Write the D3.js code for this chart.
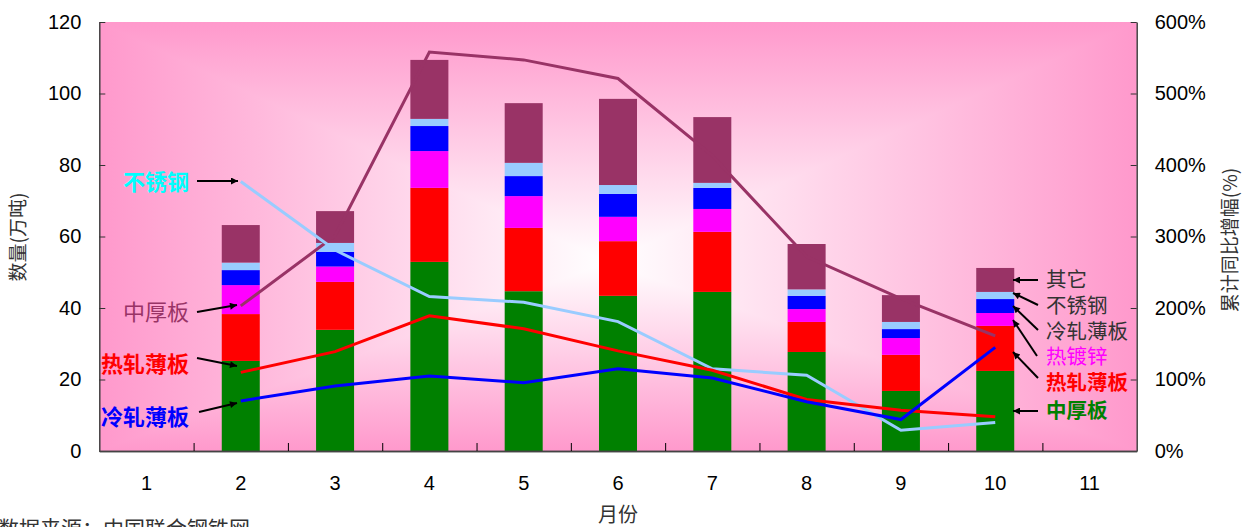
<!DOCTYPE html>
<html><head><meta charset="utf-8">
<script src="https://cdn.jsdelivr.net/npm/d3@7/dist/d3.min.js"></script>
<style>
html,body{margin:0;padding:0;background:#fff;overflow:hidden}
svg{display:block}
</style></head>
<body>
<svg id="c" width="1242" height="527"></svg>
<script>
// ---- data ----
const months = ["1","2","3","4","5","6","7","8","9","10","11"];
const seriesNames = ["中厚板","热轧薄板","热镀锌","冷轧薄板","不锈钢","其它"];
const zhonghou = [null,25.2,33.9,52.9,44.7,43.4,44.5,27.7,16.8,22.4,null];
const rezha    = [null,13.1,13.4,20.7,17.7,15.3,16.8,8.4,10.1,12.6,null];
const reduxin  = [null,8.1,4.3,10.3,8.9,6.8,6.4,3.6,4.7,3.6,null];
const lengzha  = [null,4.2,4.1,7.0,5.6,6.4,5.9,3.7,2.5,3.9,null];
const buxiu    = [null,2.1,2.5,2.0,3.7,2.5,1.4,1.8,2.0,2.0,null];
const qita     = [null,10.5,8.9,16.5,16.7,24.1,18.4,12.7,7.5,6.7,null];
// cumulative YoY growth (%)
const gZhonghou = [null,203,301,558,547,521,413,272,213,161,null];
const gBuxiu    = [null,377,281,216,208,181,115,106,29,40,null];
const gRezha    = [null,110,139,189,171,140,113,72,57,48,null];
const gLengzha  = [null,70,91,105,95.5,115,102,69,44,145,null];
const leftTicks = [0,20,40,60,80,100,120];
const rightTicks = [0,100,200,300,400,500,600];

const barColors = ["#008000","#FF0000","#FF00FF","#0000FF","#99CCFF","#993366"];
const barSeries = [zhonghou,rezha,reduxin,lengzha,buxiu,qita];

const L=99.3, R=1136.7, T=22, B=451;
const svg = d3.select("#c");
const numFont = "'Liberation Sans', Arial, sans-serif";
const cjk = "'Noto Sans CJK SC', sans-serif";

// background: rectangular path gradient via two linear gradients + darken
const defs = svg.append("defs");
const gh = defs.append("linearGradient").attr("id","gh").attr("x1","0").attr("x2","1").attr("y1","0").attr("y2","0");
gh.append("stop").attr("offset",0).attr("stop-color","#FF99CC");
gh.append("stop").attr("offset",0.49).attr("stop-color","#FFFFFF");
gh.append("stop").attr("offset",1).attr("stop-color","#FF99CC");
const gv = defs.append("linearGradient").attr("id","gv").attr("x1","0").attr("x2","0").attr("y1","0").attr("y2","1");
gv.append("stop").attr("offset",0).attr("stop-color","#FF99CC");
gv.append("stop").attr("offset",0.56).attr("stop-color","#FFFFFF");
gv.append("stop").attr("offset",1).attr("stop-color","#FF99CC");
const bg = svg.append("g").style("isolation","isolate");
bg.append("rect").attr("x",L).attr("y",T).attr("width",R-L).attr("height",B-T).attr("fill","url(#gh)");
bg.append("rect").attr("x",L).attr("y",T).attr("width",R-L).attr("height",B-T).attr("fill","url(#gv)").style("mix-blend-mode","darken");

// scales
const x = d3.scaleBand().domain(months).range([L,R]).padding(0);
const y = d3.scaleLinear().domain([0,120]).range([B,T]);
const y2 = d3.scaleLinear().domain([0,600]).range([B,T]);
const bw = x.bandwidth()*0.403;

// stacked bars
const rows = months.map((m,i)=>{const o={m}; seriesNames.forEach((s,j)=>o[s]=barSeries[j][i]||0); return o;});
const stack = d3.stack().keys(seriesNames)(rows);
stack.forEach((layer,j)=>{
  svg.append("g").selectAll("rect").data(layer.filter(d=>d[1]>d[0])).join("rect")
    .attr("x",d=>x(d.data.m)+x.bandwidth()/2-bw/2)
    .attr("width",bw)
    .attr("y",d=>y(d[1]))
    .attr("height",d=>y(d[0])-y(d[1]))
    .attr("fill",barColors[j]);
});

// lines
const lineGen = d3.line().defined(d=>d.v!=null).x(d=>x(d.m)+x.bandwidth()/2).y(d=>y2(d.v));
const lineSets = [[gZhonghou,"#993366"],[gBuxiu,"#99CCFF"],[gRezha,"#FF0000"],[gLengzha,"#0000FF"]];
lineSets.forEach(([arr,col])=>{
  const pts = months.map((m,i)=>({m,v:arr[i]}));
  svg.append("path").datum(pts).attr("d",lineGen).attr("fill","none").attr("stroke",col).attr("stroke-width",3).attr("stroke-linejoin","miter");
});

// axes
const axL = svg.append("g").attr("transform",`translate(${L},0)`)
  .call(d3.axisLeft(y).tickValues(leftTicks).tickSizeInner(-6).tickSizeOuter(0).tickPadding(18));
const axR = svg.append("g").attr("transform",`translate(${R},0)`)
  .call(d3.axisRight(y2).tickValues(rightTicks).tickSizeInner(-6).tickSizeOuter(0).tickPadding(18).tickFormat(d=>d+"%"));
const axB = svg.append("g").attr("transform",`translate(0,${B})`)
  .call(d3.axisBottom(x).tickSize(0).tickPadding(25));
const xb = d3.scaleLinear().domain([0,11]).range([L,R]);
svg.append("g").attr("transform",`translate(0,${B})`)
  .call(d3.axisBottom(xb).tickValues(d3.range(1,11)).tickSizeInner(-8).tickSizeOuter(0).tickFormat(""));
[axL,axR,axB].forEach(a=>{
  a.selectAll("text").attr("font-family",numFont).attr("font-size",20).attr("fill","#000");
  a.selectAll(".tick line").attr("stroke","#333");
});
svg.selectAll(".domain").attr("stroke","#444").attr("stroke-width",1.5);

// axis titles
svg.append("text").attr("transform","translate(25,237) rotate(-90)").attr("text-anchor","middle")
  .attr("font-family",cjk).attr("font-size",19).attr("fill","#333").text("数量(万吨)");
svg.append("text").attr("transform","translate(1237,240) rotate(-90)").attr("text-anchor","middle")
  .attr("font-family",cjk).attr("font-size",19).attr("fill","#333").text("累计同比增幅(%)");
svg.append("text").attr("x",618).attr("y",522).attr("text-anchor","middle")
  .attr("font-family",cjk).attr("font-size",20).attr("fill","#333").text("月份");
svg.append("text").attr("x",-2).attr("y",536)
  .attr("font-family",cjk).attr("font-size",21).attr("fill","#333").text("数据来源：中国联合钢铁网");

// arrow marker
defs.append("marker").attr("id","ah").attr("viewBox","0 0 10 10").attr("refX",10).attr("refY",5)
  .attr("markerWidth",10).attr("markerHeight",7).attr("markerUnits","userSpaceOnUse").attr("orient","auto")
  .append("path").attr("d","M0,0L10,5L0,10z").attr("fill","#000");

// left annotations
const leftNotes = [
  {t:"不锈钢",c:"#00FFFF",w:700,y:182,a:[197,181,238,181]},
  {t:"中厚板",c:"#993366",w:400,y:312,a:[197,312,237,305]},
  {t:"热轧薄板",c:"#FF0000",w:700,y:364,a:[197,358,237,366]},
  {t:"冷轧薄板",c:"#0000FF",w:700,y:417,a:[199,412,237,403]}
];
leftNotes.forEach(n=>{
  svg.append("text").attr("x",189).attr("y",n.y).attr("dy","0.36em").attr("text-anchor","end")
    .attr("font-family",cjk).attr("font-size",22).attr("font-weight",n.w).attr("fill",n.c).text(n.t);
  svg.append("line").attr("x1",n.a[0]).attr("y1",n.a[1]).attr("x2",n.a[2]).attr("y2",n.a[3])
    .attr("stroke","#000").attr("stroke-width",2).attr("marker-end","url(#ah)");
});
// right legend annotations
const rightNotes = [
  {t:"其它",c:"#333",w:400,y:280,a:[1038,280,1013,280]},
  {t:"不锈钢",c:"#333",w:400,y:306,a:[1038,305,1013,293]},
  {t:"冷轧薄板",c:"#333",w:400,y:332,a:[1038,330,1013,306]},
  {t:"热镀锌",c:"#FF00FF",w:400,y:357,a:[1037,356,1013,320]},
  {t:"热轧薄板",c:"#FF0000",w:700,y:383,a:[1038,378,1013,352]},
  {t:"中厚板",c:"#008000",w:700,y:411,a:[1038,411,1013,411]}
];
rightNotes.forEach(n=>{
  svg.append("text").attr("x",1046).attr("y",n.y).attr("dy","0.36em")
    .attr("font-family",cjk).attr("font-size",20.5).attr("font-weight",n.w).attr("fill",n.c).text(n.t);
  svg.append("line").attr("x1",n.a[0]).attr("y1",n.a[1]).attr("x2",n.a[2]).attr("y2",n.a[3])
    .attr("stroke","#000").attr("stroke-width",2).attr("marker-end","url(#ah)");
});
</script>
</body></html>
